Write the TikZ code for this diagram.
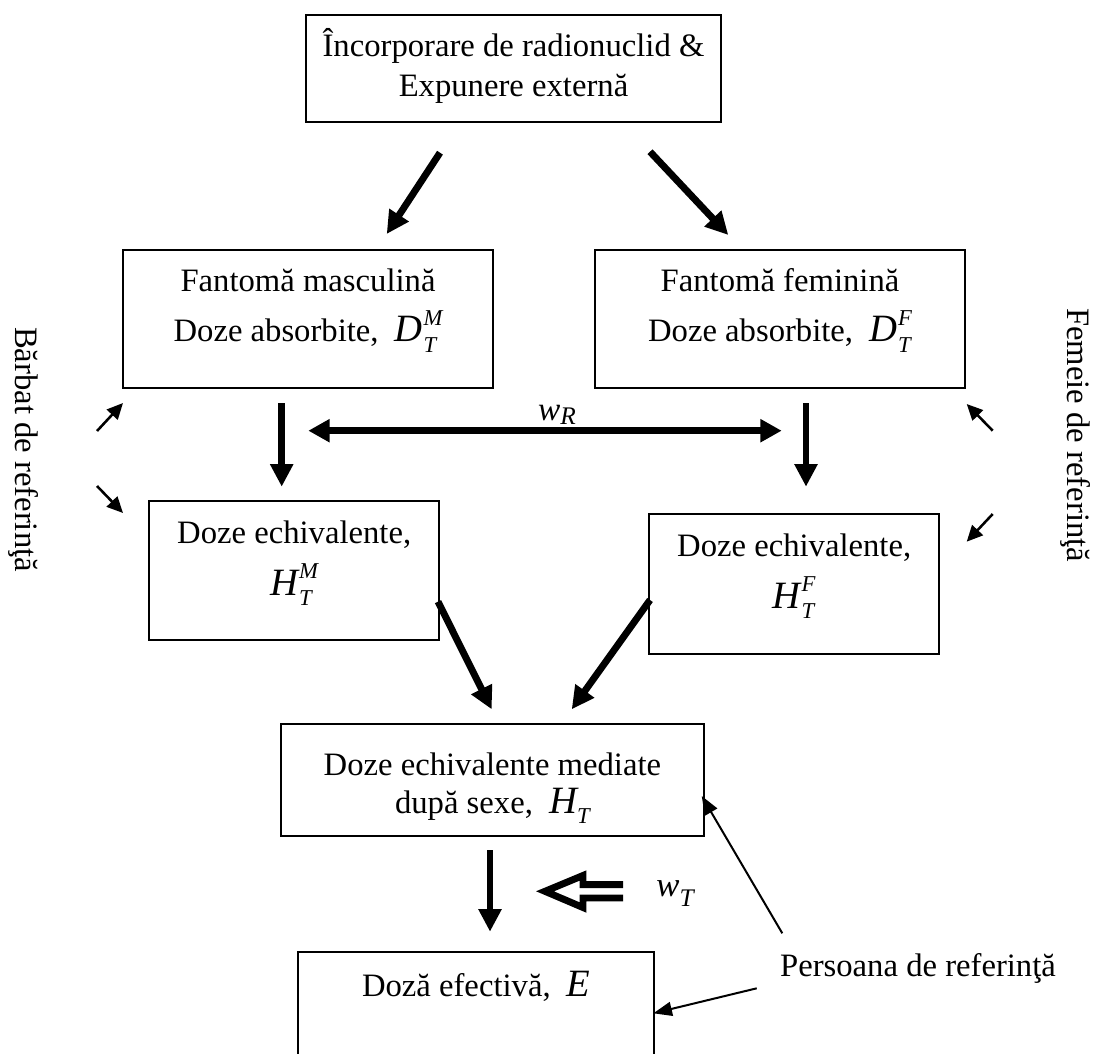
\documentclass[tikz,border=0pt]{standalone}
\usepackage{fontspec}
\setmainfont{Liberation Serif}
\usetikzlibrary{arrows.meta}

% italic quantity with stacked subscript / superscript
\newcommand{\qsupsub}[3]{{\fontsize{29}{29}\selectfont\itshape #1}{\fontsize{17}{17}\selectfont\itshape\kern0.5pt\rlap{\raisebox{-8pt}{#2}}\raisebox{12.5pt}{#3}}}
\newcommand{\qsub}[2]{{\fontsize{29}{29}\selectfont\itshape #1}{\fontsize{17}{17}\selectfont\itshape\raisebox{-7.5pt}{#2}}}

\begin{document}
\begin{tikzpicture}[x=0.75pt,y=-0.75pt,
  txt/.style={font=\fontsize{24.5}{30}\selectfont, inner sep=0pt, anchor=base},
  boxnode/.style={draw, line width=1.6pt, inner sep=0pt},
  bigarrow/.style={line width=5.2pt, -{Triangle[length=17pt,width=16.5pt]}},
  bigboth/.style={line width=5.2pt, {Triangle[length=16pt,width=16.5pt]}-{Triangle[length=16pt,width=16.5pt]}},
  sidearrow/.style={line width=1.9pt, -{Triangle[length=12pt,width=11pt]}},
  thinarrow/.style={line width=1.5pt, -{Triangle[length=14pt,width=10.5pt]}}]
\useasboundingbox (0,0) rectangle (1095,1053);

% boxes
\node[boxnode, minimum width=311.25pt, minimum height=80.25pt] (top) at (513.5,68.5) {};
\node[boxnode, minimum width=277.5pt, minimum height=103.7pt] (fm) at (308,319.2) {};
\node[boxnode, minimum width=277.5pt, minimum height=103.7pt] (ff) at (780,319.2) {};
\node[boxnode, minimum width=217.7pt, minimum height=104.5pt] (hm) at (294.2,570.4) {};
\node[boxnode, minimum width=217.7pt, minimum height=105pt] (hf) at (794.2,584) {};
\node[boxnode, minimum width=317.5pt, minimum height=84pt] (mid) at (492.4,780) {};
\node[boxnode, minimum width=267pt, minimum height=148.7pt] (eff) at (476.3,1050.9) {};

% box texts
\node[txt] (topA) at (513.5,56) {Încorporare de radionuclid \&};
\node[txt] (topB) at (513.5,96) {Expunere externă};
\node[txt] (fmA) at (308,291.7) {Fantomă masculină};
\node[txt] (fmB) at (308,341.7) {Doze absorbite,\enspace\qsupsub{D}{T}{M}};
\node[txt] (ffA) at (780,291.7) {Fantomă feminină};
\node[txt] (ffB) at (780,341.7) {Doze absorbite,\enspace\qsupsub{D}{T}{F}};
\node[txt] (hmA) at (294.2,543) {Doze echivalente,};
\node[txt] (hmB) at (294.2,595) {\qsupsub{H}{T}{M}};
\node[txt] (hfA) at (794.2,556.7) {Doze echivalente,};
\node[txt] (hfB) at (794.2,608) {\qsupsub{H}{T}{F}};
\node[txt] (midA) at (492.4,775) {Doze echivalente mediate};
\node[txt] (midB) at (492.4,813) {după sexe,\enspace\qsub{H}{T}};
\node[txt] (effA) at (476.3,996.7) {Doză efectivă,\enspace{\fontsize{29}{29}\selectfont\itshape E}};

% free labels
\node[txt] (pers) at (918,976) {Persoana de referinţă};
\node[txt] (wR) at (557,420) {{\fontsize{25}{25}\selectfont\itshape w}{\fontsize{19}{19}\selectfont\itshape\raisebox{-3pt}{R}}};
\node[txt] (wT) at (675,896.7) {{\fontsize{26}{26}\selectfont\itshape w}{\fontsize{19}{19}\selectfont\itshape\raisebox{-7pt}{T}}};
\node[txt, rotate=-90, anchor=center] (male) at (24,449.5) {Bărbat de referinţă};
\node[txt, rotate=-90, anchor=center] (female) at (1076,435) {Femeie de referinţă};

% connector end points
\coordinate (t1s) at (440,152.7);   \coordinate (t1e) at (386.7,234);
\coordinate (t2s) at (650,151.7);   \coordinate (t2e) at (728.3,235);
\coordinate (d1s) at (281.7,403);   \coordinate (d1e) at (281.7,486.7);
\coordinate (d2s) at (806,403);     \coordinate (d2e) at (806,486.7);
\coordinate (wRl) at (308.3,430.7); \coordinate (wRr) at (781.7,430.7);
\coordinate (m1s) at (438,601.7);   \coordinate (m1e) at (491.7,709.3);
\coordinate (m2s) at (650,600);     \coordinate (m2e) at (571.7,709.3);
\coordinate (d3s) at (490,850);     \coordinate (d3e) at (490,931.7);
\coordinate (p1s) at (782.3,933.3); \coordinate (p1e) at (701.7,796);
\coordinate (p2s) at (756.7,988.3); \coordinate (p2e) at (653.3,1013.3);
\coordinate (s1s) at (97,431);      \coordinate (s1e) at (123,403);
\coordinate (s2s) at (97,486);      \coordinate (s2e) at (123,513);
\coordinate (s3s) at (992.7,430.7); \coordinate (s3e) at (966.7,404);
\coordinate (s4s) at (992.7,514);   \coordinate (s4e) at (966.7,541.7);

% main flow
\draw[bigarrow] (t1s) -- (t1e);
\draw[bigarrow] (t2s) -- (t2e);
\draw[bigarrow] (d1s) -- (d1e);
\draw[bigarrow] (d2s) -- (d2e);
\draw[bigboth] (wRl) -- (wRr);
\draw[bigarrow] (m1s) -- (m1e);
\draw[bigarrow] (m2s) -- (m2e);
\draw[bigarrow] (d3s) -- (d3e);

% hollow double arrow for the tissue weighting
\draw[line width=5.2pt, line join=miter]
  (623,884.7) -- (583,884.7) -- (583,875.5) -- (545,891.3) -- (583,907.5) -- (583,898) -- (623,898);

% reference person pointers
\draw[thinarrow] (p1s) -- (p1e);
\draw[thinarrow] (p2s) -- (p2e);

% side pointers
\draw[sidearrow] (s1s) -- (s1e);
\draw[sidearrow] (s2s) -- (s2e);
\draw[sidearrow] (s3s) -- (s3e);
\draw[sidearrow] (s4s) -- (s4e);
\end{tikzpicture}
\end{document}
